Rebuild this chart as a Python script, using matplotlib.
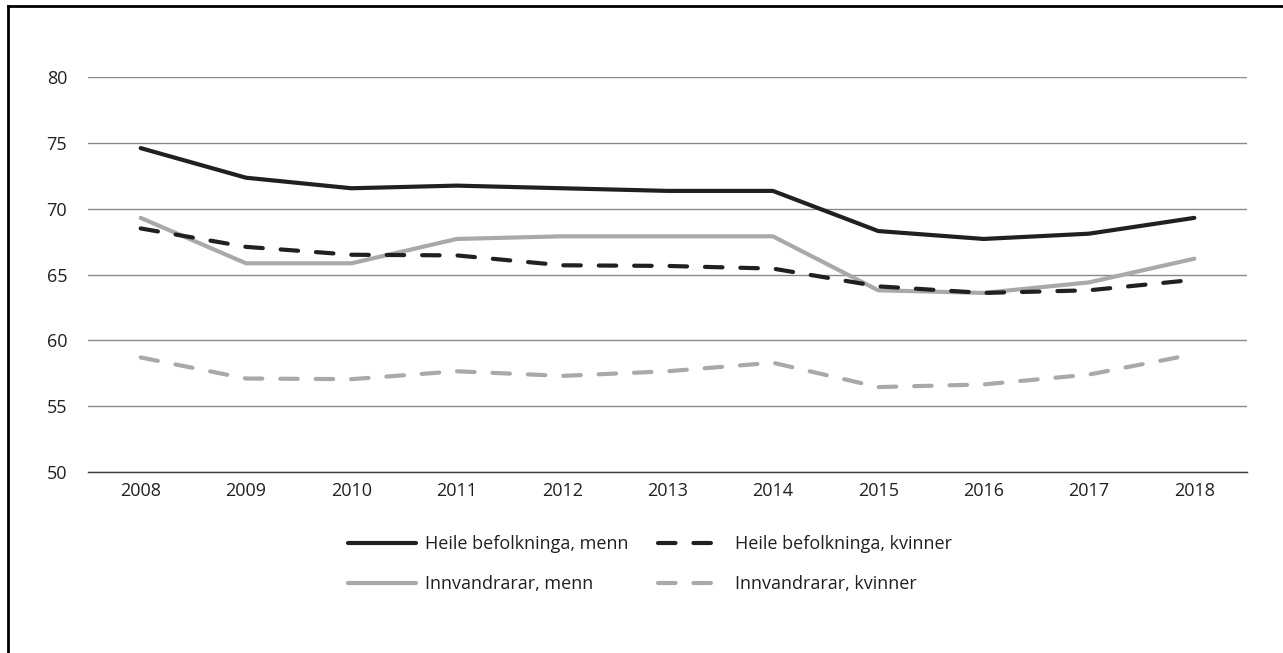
import matplotlib
matplotlib.use("Agg")
import matplotlib.pyplot as plt
from matplotlib.lines import Line2D

years = ["2008", "2009", "2010", "2011", "2012", "2013", "2014", "2015", "2016", "2017", "2018"]
heile_menn = [74.6, 72.35, 71.55, 71.75, 71.55, 71.35, 71.35, 68.3, 67.7, 68.1, 69.3]
heile_kvinner = [68.5, 67.1, 66.5, 66.45, 65.7, 65.65, 65.45, 64.1, 63.6, 63.8, 64.6]
innv_menn = [69.3, 65.85, 65.85, 67.7, 67.9, 67.9, 67.9, 63.8, 63.6, 64.4, 66.2]
innv_kvinner = [58.7, 57.1, 57.05, 57.65, 57.3, 57.65, 58.3, 56.45, 56.65, 57.4, 58.95]
labels = ["Heile befolkninga, menn", "Heile befolkninga, kvinner",
          "Innvandrarar, menn", "Innvandrarar, kvinner"]
yticks = [50, 55, 60, 65, 70, 75, 80]

plt.rcParams['font.family'] = ['Open Sans', 'DejaVu Sans']

W, H = 1283, 653
fig = plt.figure(figsize=(W / 100, H / 100), dpi=100)
ax = fig.add_axes([88 / W, 1 - 472 / H, (1247 - 88) / W, (472 - 77) / H])

BLACK = "#231f20"
GRAY = "#a7a9ac"
lw = 3.0
dash = (4.2, 4.3)
FS = 13

x = list(range(len(years)))
ax.plot(x, heile_menn, color=BLACK, lw=lw, solid_capstyle="round", solid_joinstyle="round", label=labels[0], zorder=3)
ax.plot(x, heile_kvinner, color=BLACK, lw=lw, dashes=dash, dash_capstyle="round", label=labels[1], zorder=3)
ax.plot(x, innv_menn, color=GRAY, lw=lw, solid_capstyle="round", solid_joinstyle="round", label=labels[2], zorder=2)
ax.plot(x, innv_kvinner, color=GRAY, lw=lw, dashes=dash, dash_capstyle="round", label=labels[3], zorder=2)

ax.set_xlim(-0.5, len(years) - 0.5)
ax.set_ylim(50, 80)
ax.set_yticks(yticks)
ax.set_xticks(x)
ax.set_xticklabels(years)
ax.grid(axis="y", color="#8a8a8a", lw=1.0)
ax.set_axisbelow(True)
for s in ["top", "right", "left"]:
    ax.spines[s].set_visible(False)
ax.spines["bottom"].set_color("#3a3a3a")
ax.spines["bottom"].set_linewidth(1.0)
ax.tick_params(axis="both", length=0, labelsize=FS, colors="#231f20")
ax.tick_params(axis="y", pad=15)
ax.tick_params(axis="x", pad=7)

handles, labs = ax.get_legend_handles_labels()
order = [0, 2, 1, 3]
leg = fig.legend([handles[i] for i in order], [labs[i] for i in order],
                 ncol=2, loc="center", bbox_to_anchor=(650 / W, 1 - 564 / H),
                 frameon=False, fontsize=FS, handlelength=3.8, handletextpad=0.5,
                 columnspacing=1.6, labelspacing=1.2)
for t in leg.get_texts():
    t.set_color("#231f20")

# outer frame (left and top visible)
fig.add_artist(Line2D([8 / W, 8 / W], [0, 1 - 6 / H], transform=fig.transFigure, color="black", lw=2.0))
fig.add_artist(Line2D([8 / W, 1], [1 - 6 / H, 1 - 6 / H], transform=fig.transFigure, color="black", lw=2.0))

fig.savefig("out.png", dpi=100)
